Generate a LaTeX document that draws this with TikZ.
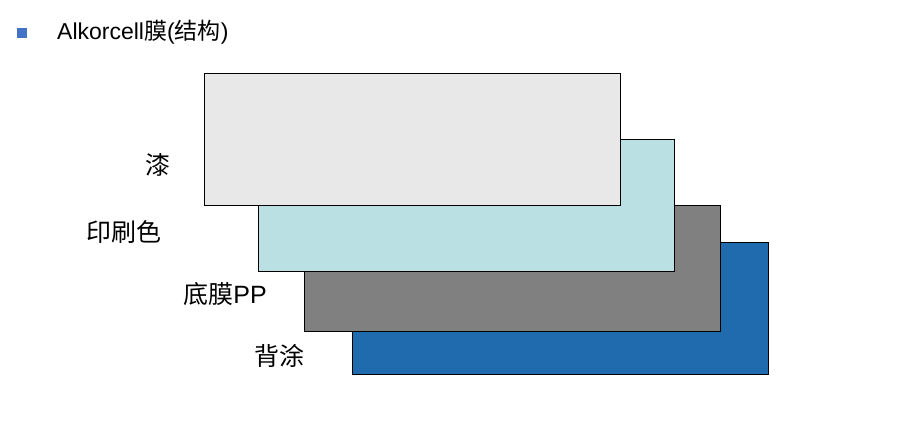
\documentclass[tikz,border=0pt]{standalone}
\usepackage{fontspec}
\setmainfont{Liberation Sans}
\newfontfamily\cjk{Noto Sans CJK SC}
\usepackage{tikz}
\usetikzlibrary{positioning}

\definecolor{lacquer}{HTML}{E8E8E8}
\definecolor{printcol}{HTML}{BBE0E3}
\definecolor{basefilm}{HTML}{808080}
\definecolor{backcoat}{HTML}{1F6BAE}
\definecolor{bulletblue}{HTML}{4472C4}

\tikzset{
  layer/.style={draw=black, line width=0.9pt, inner sep=0pt, anchor=north west,
    minimum width=416pt},
  layername/.style={anchor=east, inner sep=0pt, font=\fontsize{25}{25}\selectfont}
}

\begin{document}
\begin{tikzpicture}[x=1pt,y=-1pt]
\useasboundingbox (0,0) rectangle (897,423);

\node[fill=bulletblue, minimum size=10pt, inner sep=0pt] (bullet) at (22,33) {};
\node[anchor=west, inner sep=0pt, font=\fontsize{23}{23}\selectfont] (title) at (57,32)
  {Alkorcell{\cjk 膜}({\cjk 结构})};

\node[layer, fill=backcoat, minimum height=132pt] (L4) at (352,242) {};
\node[layer, fill=basefilm, minimum height=126pt] (L3) at (304,205) {};
\node[layer, fill=printcol, minimum height=132pt] (L2) at (258,139) {};
\node[layer, fill=lacquer, minimum height=132pt] (L1) at (204,73) {};

\node[layername] (N1) at (171,165) {\cjk 漆};
\node[layername] (N2) at (162,232) {\cjk 印刷色};
\node[layername] (N3) at (267,294) {{\cjk 底膜}PP};
\node[layername] (N4) at (305,356) {\cjk 背涂};

\end{tikzpicture}
\end{document}
